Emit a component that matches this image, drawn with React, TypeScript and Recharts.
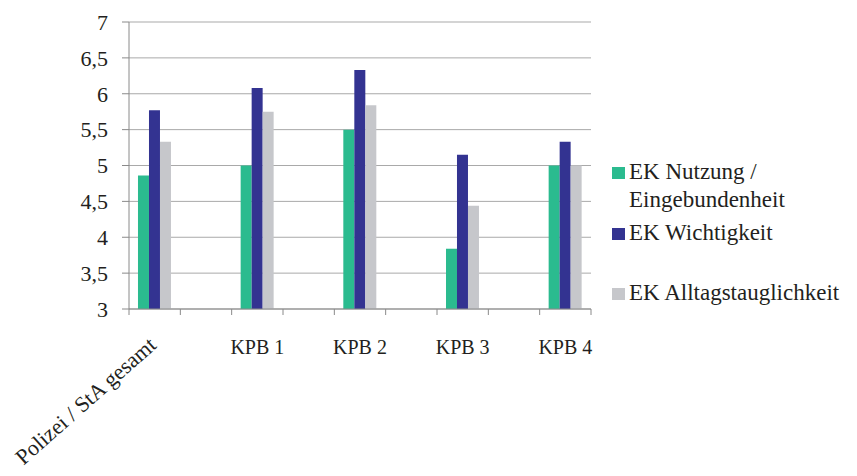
import { BarChart, Bar, XAxis, YAxis, CartesianGrid, Legend } from 'recharts';

const categories = ['Polizei / StA gesamt', '', 'KPB 1', '', 'KPB 2', '', 'KPB 3', '', 'KPB 4'];
const nutzung = [4.86, null, 5.0, null, 5.5, null, 3.84, null, 5.0];
const wichtigkeit = [5.77, null, 6.08, null, 6.33, null, 5.15, null, 5.33];
const alltag = [5.33, null, 5.75, null, 5.84, null, 4.44, null, 5.0];
const yTicks = [3, 3.5, 4, 4.5, 5, 5.5, 6, 6.5, 7];

const seriesNames = ['EK Nutzung / Eingebundenheit', 'EK Wichtigkeit', 'EK Alltagstauglichkeit'];
const colors = ['#2bbb8f', '#333391', '#c6c7cb'];

const data = categories.map((name, i) => ({
    name,
    nutzung: nutzung[i],
    wichtigkeit: wichtigkeit[i],
    alltag: alltag[i],
}));

const FONT = "'Liberation Serif', 'Times New Roman', serif";
const TEXT = '#231f20';
const AXIS = '#8a8a8a';

function CategoryTick(props: any) {
    const { x, y, payload, index } = props;
    const half = payload?.offset || 25.7;
    const isFirst = index === 0;
    const isLast = index === categories.length - 1;
    return (
        <g>
            <line x1={x - half} y1={y} x2={x - half} y2={y + 6} stroke={AXIS} />
            {isLast && <line x1={x + half} y1={y} x2={x + half} y2={y + 6} stroke={AXIS} />}
            {payload.value && (isFirst ? (
                <text
                    x={x + 3}
                    y={y + 38}
                    textAnchor="end"
                    transform={`rotate(-41.5, ${x + 3}, ${y + 38})`}
                    fontFamily={FONT}
                    fontSize={22}
                    fill={TEXT}
                >
                    {payload.value}
                </text>
            ) : (
                <text x={x} y={y + 45} textAnchor="middle" fontFamily={FONT} fontSize={20} fill={TEXT}>
                    {payload.value}
                </text>
            ))}
        </g>
    );
}

function LegendBox() {
    const tops = [0, 5, 32];
    return (
        <div style={{ fontFamily: FONT, fontSize: 23, color: TEXT, lineHeight: '28px' }}>
            {seriesNames.map((name, i) => (
                <div key={name} style={{ display: 'flex', alignItems: 'flex-start', marginTop: tops[i] }}>
                    <span
                        style={{
                            width: 13,
                            height: 12,
                            background: colors[i],
                            marginTop: 9,
                            marginRight: 4,
                            flex: 'none',
                        }}
                    />
                    <span style={{ width: 226, whiteSpace: i === 0 ? 'normal' : 'nowrap' }}>{name}</span>
                </div>
            ))}
        </div>
    );
}

export default function App() {
    return (
        <div style={{ position: 'absolute', left: 0, top: 0, width: 857, height: 476, background: '#fff' }}>
            <BarChart
                width={857}
                height={476}
                data={data}
                margin={{ top: 22, right: 266, left: 0, bottom: 0 }}
                barCategoryGap="17.5%"
                barGap={0}
            >
                <CartesianGrid vertical={false} stroke="#a9a9a9" />
                <XAxis
                    dataKey="name"
                    height={167}
                    interval={0}
                    tickLine={false}
                    tickSize={0}
                    tickMargin={0}
                    stroke={AXIS}
                    tick={<CategoryTick />}
                />
                <YAxis
                    width={129}
                    domain={[3, 7]}
                    ticks={yTicks}
                    stroke={AXIS}
                    tickSize={7}
                    tickMargin={14}
                    tickFormatter={(v: number) => String(v).replace('.', ',')}
                    tick={{ fontSize: 22, fontFamily: FONT, fill: TEXT }}
                />
                <Legend
                    layout="vertical"
                    align="center"
                    verticalAlign="middle"
                    wrapperStyle={{ left: 612, top: 158, width: 245 }}
                    content={<LegendBox />}
                />
                <Bar dataKey="nutzung" name={seriesNames[0]} fill={colors[0]} isAnimationActive={false} />
                <Bar dataKey="wichtigkeit" name={seriesNames[1]} fill={colors[1]} isAnimationActive={false} />
                <Bar dataKey="alltag" name={seriesNames[2]} fill={colors[2]} isAnimationActive={false} />
            </BarChart>
        </div>
    );
}
